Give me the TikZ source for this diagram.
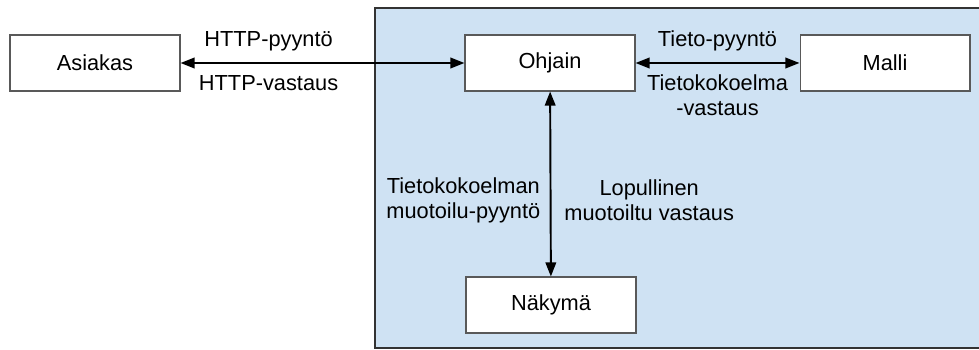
\documentclass[tikz,border=0pt]{standalone}
\usepackage{fontspec}
\setmainfont{Liberation Sans}
\usetikzlibrary{positioning,arrows.meta}
\definecolor{paleblue}{RGB}{207,226,243}
\begin{document}
\begin{tikzpicture}[x=0.02cm, y=-0.02cm, font=\fontsize{12.4}{14.2}\selectfont,
  main/.style = {draw=black!65, line width=0.6pt, fill=white, minimum width=3.4cm, minimum height=1.12cm},
  link/.style = {{Triangle[length=8pt,width=6pt]}-{Triangle[length=8pt,width=6pt]}, line width=1.1pt}]
\useasboundingbox (0,0) rectangle (979,350);
\filldraw[fill=paleblue, draw=black!80, line width=1.1pt] (375,8) rectangle (1000,348);

\node[main] (1) at (95,63) {Asiakas};
\node[main] (2) at (550,63) {Ohjain};
\node[main] (3) at (885,63) {Malli};
\node[main] (4) at (551,305) {Näkymä};

\draw[link] (1) -- node[pos=0.31, above=3pt] {HTTP-pyyntö} node[pos=0.31, below=3pt] {HTTP-vastaus} (2);
\draw[link] (2) -- node[above=3pt] {Tieto-pyyntö} node[below=3pt, align=center] {Tietokokoelma\\-vastaus} (3);
\draw[link] (2) -- node[pos=0.586, left=2pt, align=center] {Tietokokoelman\\muotoilu-pyyntö} node[pos=0.586, right=4pt, align=center] {Lopullinen\\muotoiltu vastaus} (4);
\end{tikzpicture}
\end{document}
